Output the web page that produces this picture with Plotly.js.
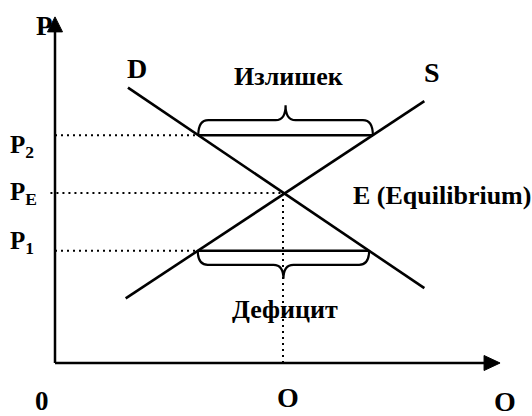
<!DOCTYPE html>
<html>
<head>
<meta charset="utf-8">
<script src="https://cdn.plot.ly/plotly-3.0.1.min.js"></script>
<style>html,body{margin:0;padding:0;background:#fff;}#chart{width:532px;height:416px;}</style>
</head>
<body>
<div id="chart"></div>
<script>
// ---- data (quantity Q, price P) ----
var demandQ = [1.6, 8.1];
var demandP = [8.1, 2.2];
var supplyQ = [1.55, 8.1];
var supplyP = [1.9, 7.7];
var priceLevels = [6.7, 5.0, 3.3];          // P2, PE, P1
var priceLabels = ['P<sub>2</sub>', 'P<sub>E</sub>', 'P<sub>1</sub>'];
var eqQ = 5.0;
var axisQmax = 9.76;
var axisPmax = 10.18;
var quantityLabels = ['0', 'O', 'O'];

// ---- layout geometry (pixels) ----
var W = 532, H = 416, OX = 55, OY = 363, SX = 45.6, SY = 34;
function px2x(p){ return (p - OX) / SX; }
function py2y(p){ return (OY - p) / SY; }

function lineAt(qs, ps, p){ // Q on a straight line at price p
  return qs[0] + (p - ps[0]) * (qs[1] - qs[0]) / (ps[1] - ps[0]);
}

var FONT = 'Liberation Serif, Times New Roman, serif';
var traces = [];
function addLine(x, y, w, dash){
  traces.push({x:x, y:y, mode:'lines', type:'scatter', hoverinfo:'skip',
    line:{color:'#000', width:w, dash:dash||'solid'}});
}
// axes
addLine([0,0],[0,axisPmax-14/SY],2.5);
addLine([0,axisQmax-14/SX],[0,0],2.5);
// arrowheads
traces.push({x:[0-7.5/SX, 0, 0+7.5/SX, 0-7.5/SX], y:[axisPmax-15/SY, axisPmax, axisPmax-15/SY, axisPmax-15/SY],
  mode:'lines', fill:'toself', fillcolor:'#000', line:{color:'#000',width:1}, hoverinfo:'skip'});
traces.push({x:[axisQmax-16/SX, axisQmax, axisQmax-16/SX, axisQmax-16/SX], y:[7.5/SY, 0, -7.5/SY, 7.5/SY],
  mode:'lines', fill:'toself', fillcolor:'#000', line:{color:'#000',width:1}, hoverinfo:'skip'});
// D and S
addLine(demandQ, demandP, 2.6);
addLine(supplyQ, supplyP, 2.6);

var P2 = priceLevels[0], PE = priceLevels[1], P1 = priceLevels[2];
var dP2 = lineAt(demandQ, demandP, P2), sP2 = lineAt(supplyQ, supplyP, P2);
var sP1 = lineAt(supplyQ, supplyP, P1), dP1 = lineAt(demandQ, demandP, P1);
// dotted guides
var DOT = '2px,4px';
addLine([0, dP2],[P2,P2],2,DOT);
addLine([-0.1, eqQ],[PE,PE],2,DOT);
addLine([0, sP1],[P1,P1],2,DOT);
addLine([eqQ, eqQ],[PE,0],2,DOT);
// solid gap lines
addLine([dP2, sP2],[P2,P2],2.5);
addLine([sP1, dP1],[P1,P1],2.5);

// braces
function brace(x1, x2, y, dir, hPx){
  var h = dir * hPx / SY, r = 10 / SX, xm = (x1 + x2) / 2;
  return 'M' + x1 + ',' + y +
    ' Q' + x1 + ',' + (y+h) + ' ' + (x1+r) + ',' + (y+h) +
    ' L' + (xm-r) + ',' + (y+h) +
    ' Q' + xm + ',' + (y+h) + ' ' + xm + ',' + (y+2*h) +
    ' Q' + xm + ',' + (y+h) + ' ' + (xm+r) + ',' + (y+h) +
    ' L' + (x2-r) + ',' + (y+h) +
    ' Q' + x2 + ',' + (y+h) + ' ' + x2 + ',' + y;
}
var shapes = [
  {type:'path', xref:'x', yref:'y', path: brace(dP2, sP2, P2, 1, 15), line:{color:'#000', width:2.2}},
  {type:'path', xref:'x', yref:'y', path: brace(sP1, dP1, P1, -1, 14), line:{color:'#000', width:2.2}}
];

function ann(text, pxX, pxY, size, xanchor){
  return {text:'<b>'+text+'</b>', x:pxX/W, y:1-pxY/H, xref:'paper', yref:'paper',
    showarrow:false, xanchor:xanchor||'center', yanchor:'middle',
    font:{family:FONT, size:size, color:'#000'}};
}
var annotations = [
  ann('P', 44, 26, 27),
  ann('D', 137, 69, 28),
  ann('Излишек', 288, 76, 26),
  ann('S', 432, 73, 28),
  ann(priceLabels[0], 8, 146, 25, 'left'),
  ann(priceLabels[1], 8, 193, 25, 'left'),
  ann(priceLabels[2], 8, 242, 25, 'left'),
  ann('E (Equilibrium)', 351, 195, 26, 'left'),
  ann('Дефицит', 285, 309, 26),
  ann(quantityLabels[0], 42, 401, 27),
  ann(quantityLabels[1], 288, 397, 28),
  ann(quantityLabels[2], 505, 401, 28)
];

var layout = {
  width:W, height:H, margin:{l:0,r:0,t:0,b:0}, showlegend:false,
  paper_bgcolor:'#fff', plot_bgcolor:'#fff',
  xaxis:{range:[px2x(0), px2x(W)], visible:false, fixedrange:true},
  yaxis:{range:[py2y(H), py2y(0)], visible:false, fixedrange:true},
  shapes:shapes, annotations:annotations
};
Plotly.newPlot('chart', traces, layout, {staticPlot:true});
</script>
</body>
</html>
